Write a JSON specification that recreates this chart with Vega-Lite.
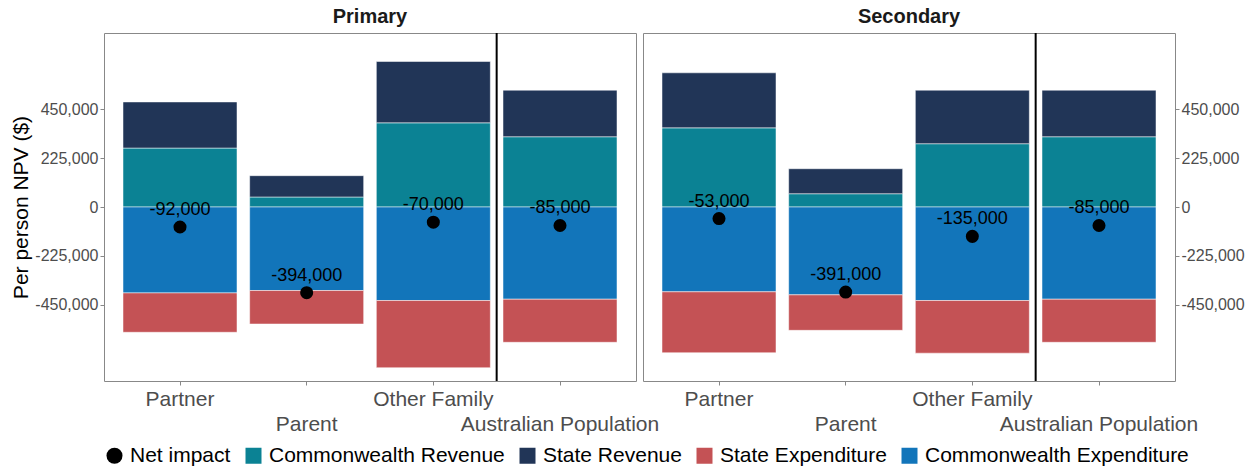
{
  "$schema": "https://vega.github.io/schema/vega-lite/v6.json",
  "padding": {"left": 10, "right": 5, "top": 6, "bottom": 2},
  "bounds": "flush",
  "spacing": 7,
  "datasets": {
    "bars": [
      {"panel": "Primary", "group": "Partner", "type": "Commonwealth Revenue", "value": 271000},
      {"panel": "Primary", "group": "Partner", "type": "State Revenue", "value": 212000},
      {"panel": "Primary", "group": "Partner", "type": "Commonwealth Expenditure", "value": -395000},
      {"panel": "Primary", "group": "Partner", "type": "State Expenditure", "value": -181000},
      {"panel": "Primary", "group": "Parent", "type": "Commonwealth Revenue", "value": 46000},
      {"panel": "Primary", "group": "Parent", "type": "State Revenue", "value": 98000},
      {"panel": "Primary", "group": "Parent", "type": "Commonwealth Expenditure", "value": -384000},
      {"panel": "Primary", "group": "Parent", "type": "State Expenditure", "value": -154000},
      {"panel": "Primary", "group": "Other Family", "type": "Commonwealth Revenue", "value": 387000},
      {"panel": "Primary", "group": "Other Family", "type": "State Revenue", "value": 282000},
      {"panel": "Primary", "group": "Other Family", "type": "Commonwealth Expenditure", "value": -430000},
      {"panel": "Primary", "group": "Other Family", "type": "State Expenditure", "value": -309000},
      {"panel": "Primary", "group": "Australian Population", "type": "Commonwealth Revenue", "value": 323000},
      {"panel": "Primary", "group": "Australian Population", "type": "State Revenue", "value": 214000},
      {"panel": "Primary", "group": "Australian Population", "type": "Commonwealth Expenditure", "value": -424000},
      {"panel": "Primary", "group": "Australian Population", "type": "State Expenditure", "value": -198000},
      {"panel": "Secondary", "group": "Partner", "type": "Commonwealth Revenue", "value": 364000},
      {"panel": "Secondary", "group": "Partner", "type": "State Revenue", "value": 253000},
      {"panel": "Secondary", "group": "Partner", "type": "Commonwealth Expenditure", "value": -390000},
      {"panel": "Secondary", "group": "Partner", "type": "State Expenditure", "value": -280000},
      {"panel": "Secondary", "group": "Parent", "type": "Commonwealth Revenue", "value": 61000},
      {"panel": "Secondary", "group": "Parent", "type": "State Revenue", "value": 115000},
      {"panel": "Secondary", "group": "Parent", "type": "Commonwealth Expenditure", "value": -404000},
      {"panel": "Secondary", "group": "Parent", "type": "State Expenditure", "value": -163000},
      {"panel": "Secondary", "group": "Other Family", "type": "Commonwealth Revenue", "value": 291000},
      {"panel": "Secondary", "group": "Other Family", "type": "State Revenue", "value": 246000},
      {"panel": "Secondary", "group": "Other Family", "type": "Commonwealth Expenditure", "value": -430000},
      {"panel": "Secondary", "group": "Other Family", "type": "State Expenditure", "value": -242000},
      {"panel": "Secondary", "group": "Australian Population", "type": "Commonwealth Revenue", "value": 323000},
      {"panel": "Secondary", "group": "Australian Population", "type": "State Revenue", "value": 214000},
      {"panel": "Secondary", "group": "Australian Population", "type": "Commonwealth Expenditure", "value": -424000},
      {"panel": "Secondary", "group": "Australian Population", "type": "State Expenditure", "value": -198000}
    ],
    "net": [
      {"panel": "Primary", "group": "Partner", "type": "Net impact", "value": -92000, "label": "-92,000"},
      {"panel": "Primary", "group": "Parent", "type": "Net impact", "value": -394000, "label": "-394,000"},
      {"panel": "Primary", "group": "Other Family", "type": "Net impact", "value": -70000, "label": "-70,000"},
      {"panel": "Primary", "group": "Australian Population", "type": "Net impact", "value": -85000, "label": "-85,000"},
      {"panel": "Secondary", "group": "Partner", "type": "Net impact", "value": -53000, "label": "-53,000"},
      {"panel": "Secondary", "group": "Parent", "type": "Net impact", "value": -391000, "label": "-391,000"},
      {"panel": "Secondary", "group": "Other Family", "type": "Net impact", "value": -135000, "label": "-135,000"},
      {"panel": "Secondary", "group": "Australian Population", "type": "Net impact", "value": -85000, "label": "-85,000"}
    ],
    "marks": [
      {"group": "Australian Population", "zero": 0}
    ]
  },
  "hconcat": [
    {
      "title": {"text": "Primary", "fontSize": 20, "fontWeight": "bold", "color": "#1a1a1a", "offset": 5},
      "width": 532,
      "height": 348,
      "encoding": {
        "x": {
          "field": "group", "type": "nominal",
          "sort": ["Partner", "Parent", "Other Family", "Australian Population"],
          "scale": {"paddingInner": 0.1, "paddingOuter": 0.15},
          "axis": {
            "title": null, "labelAngle": 0, "domain": false, "labelFontSize": 21, "labelColor": "#4d4d4d", "labelLimit": 0,
            "tickColor": "#888888", "tickSize": 4, "labelPadding": 3, "labelLineHeight": 25, "labelOverlap": false, "labelBound": false,
            "labelExpr": "indexof(['Parent','Australian Population'], datum.value) >= 0 ? ['', datum.value] : datum.value"
          }
        }
      },
      "layer": [
        {
          "data": {"name": "bars"},
          "transform": [{"filter": "datum.panel === 'Primary'"}],
          "mark": {"type": "bar", "stroke": "#ffffff", "strokeWidth": 0.5},
          "encoding": {
            "y": {
              "field": "value", "type": "quantitative", "stack": "zero",
              "scale": {"domain": [-800000, 800000], "nice": false, "zero": false},
              "axis": {
                "title": "Per person NPV ($)", "titleFontSize": 21, "titleFontWeight": "normal", "titleColor": "#000000", "titlePadding": 3,
                "values": [-450000, -225000, 0, 225000, 450000], "grid": false, "domain": false,
                "labelFontSize": 16, "labelColor": "#4d4d4d", "tickColor": "#888888", "tickSize": 4, "labelPadding": 2,
                "labelExpr": "replace(format(datum.value, ','), '\u2212', '-')"
              }
            },
            "color": {
              "field": "type", "type": "nominal",
              "scale": {
                "domain": ["Net impact", "Commonwealth Revenue", "State Revenue", "State Expenditure", "Commonwealth Expenditure"],
                "range": ["#000000", "#0B8294", "#213557", "#C45255", "#1275BA"]
              }
            },
            "order": {"field": "type", "sort": "ascending"}
          }
        },
        {
          "data": {"name": "marks"},
          "mark": {"type": "rule", "color": "#808080", "strokeWidth": 1},
          "encoding": {"y": {"field": "zero", "type": "quantitative"}}
        },
        {
          "data": {"name": "marks"},
          "mark": {"type": "rule", "color": "#000000", "strokeWidth": 2},
          "encoding": {"x": {"field": "group", "type": "nominal", "bandPosition": -0.0556}}
        },
        {
          "data": {"name": "net"},
          "transform": [{"filter": "datum.panel === 'Primary'"}],
          "mark": {"type": "point", "filled": true, "opacity": 1, "size": 170},
          "encoding": {
            "y": {"field": "value", "type": "quantitative"},
            "color": {"field": "type", "type": "nominal"},
            "shape": {
              "field": "type", "type": "nominal",
              "scale": {
                "domain": ["Net impact", "Commonwealth Revenue", "State Revenue", "State Expenditure", "Commonwealth Expenditure"],
                "range": ["circle", "square", "square", "square", "square"]
              }
            }
          }
        },
        {
          "data": {"name": "net"},
          "transform": [{"filter": "datum.panel === 'Primary'"}],
          "mark": {"type": "text", "fontSize": 18, "color": "#000000", "baseline": "alphabetic", "dy": -12},
          "encoding": {
            "y": {"field": "value", "type": "quantitative"},
            "text": {"field": "label"}
          }
        }
      ]
    },
    {
      "title": {"text": "Secondary", "fontSize": 20, "fontWeight": "bold", "color": "#1a1a1a", "offset": 5},
      "width": 532,
      "height": 348,
      "encoding": {
        "x": {
          "field": "group", "type": "nominal",
          "sort": ["Partner", "Parent", "Other Family", "Australian Population"],
          "scale": {"paddingInner": 0.1, "paddingOuter": 0.15},
          "axis": {
            "title": null, "labelAngle": 0, "domain": false, "labelFontSize": 21, "labelColor": "#4d4d4d", "labelLimit": 0,
            "tickColor": "#888888", "tickSize": 4, "labelPadding": 3, "labelLineHeight": 25, "labelOverlap": false, "labelBound": false,
            "labelExpr": "indexof(['Parent','Australian Population'], datum.value) >= 0 ? ['', datum.value] : datum.value"
          }
        }
      },
      "layer": [
        {
          "data": {"name": "bars"},
          "transform": [{"filter": "datum.panel === 'Secondary'"}],
          "mark": {"type": "bar", "stroke": "#ffffff", "strokeWidth": 0.5},
          "encoding": {
            "y": {
              "field": "value", "type": "quantitative", "stack": "zero",
              "scale": {"domain": [-800000, 800000], "nice": false, "zero": false},
              "axis": {
                "orient": "right", "title": null,
                "values": [-450000, -225000, 0, 225000, 450000], "grid": false, "domain": false,
                "labelFontSize": 16, "labelColor": "#4d4d4d", "tickColor": "#888888", "tickSize": 4, "labelPadding": 2,
                "labelExpr": "replace(format(datum.value, ','), '\u2212', '-')"
              }
            },
            "color": {
              "field": "type", "type": "nominal",
              "scale": {
                "domain": ["Net impact", "Commonwealth Revenue", "State Revenue", "State Expenditure", "Commonwealth Expenditure"],
                "range": ["#000000", "#0B8294", "#213557", "#C45255", "#1275BA"]
              }
            },
            "order": {"field": "type", "sort": "ascending"}
          }
        },
        {
          "data": {"name": "marks"},
          "mark": {"type": "rule", "color": "#808080", "strokeWidth": 1},
          "encoding": {"y": {"field": "zero", "type": "quantitative"}}
        },
        {
          "data": {"name": "marks"},
          "mark": {"type": "rule", "color": "#000000", "strokeWidth": 2},
          "encoding": {"x": {"field": "group", "type": "nominal", "bandPosition": -0.0556}}
        },
        {
          "data": {"name": "net"},
          "transform": [{"filter": "datum.panel === 'Secondary'"}],
          "mark": {"type": "point", "filled": true, "opacity": 1, "size": 170},
          "encoding": {
            "y": {"field": "value", "type": "quantitative"},
            "color": {"field": "type", "type": "nominal"},
            "shape": {
              "field": "type", "type": "nominal",
              "scale": {
                "domain": ["Net impact", "Commonwealth Revenue", "State Revenue", "State Expenditure", "Commonwealth Expenditure"],
                "range": ["circle", "square", "square", "square", "square"]
              }
            }
          }
        },
        {
          "data": {"name": "net"},
          "transform": [{"filter": "datum.panel === 'Secondary'"}],
          "mark": {"type": "text", "fontSize": 18, "color": "#000000", "baseline": "alphabetic", "dy": -12},
          "encoding": {
            "y": {"field": "value", "type": "quantitative"},
            "text": {"field": "label"}
          }
        }
      ]
    }
  ],
  "resolve": {"scale": {"color": "shared", "shape": "shared"}},
  "config": {
    "font": "Liberation Sans",
    "view": {"stroke": "#888888", "strokeWidth": 1},
    "legend": {
      "orient": "bottom", "direction": "horizontal", "title": null, "labelFontSize": 21, "labelColor": "#000000", "labelLimit": 0,
      "symbolSize": 256, "symbolStrokeWidth": 0, "columnPadding": 12, "labelOffset": 5, "offset": 10
    }
  }
}
